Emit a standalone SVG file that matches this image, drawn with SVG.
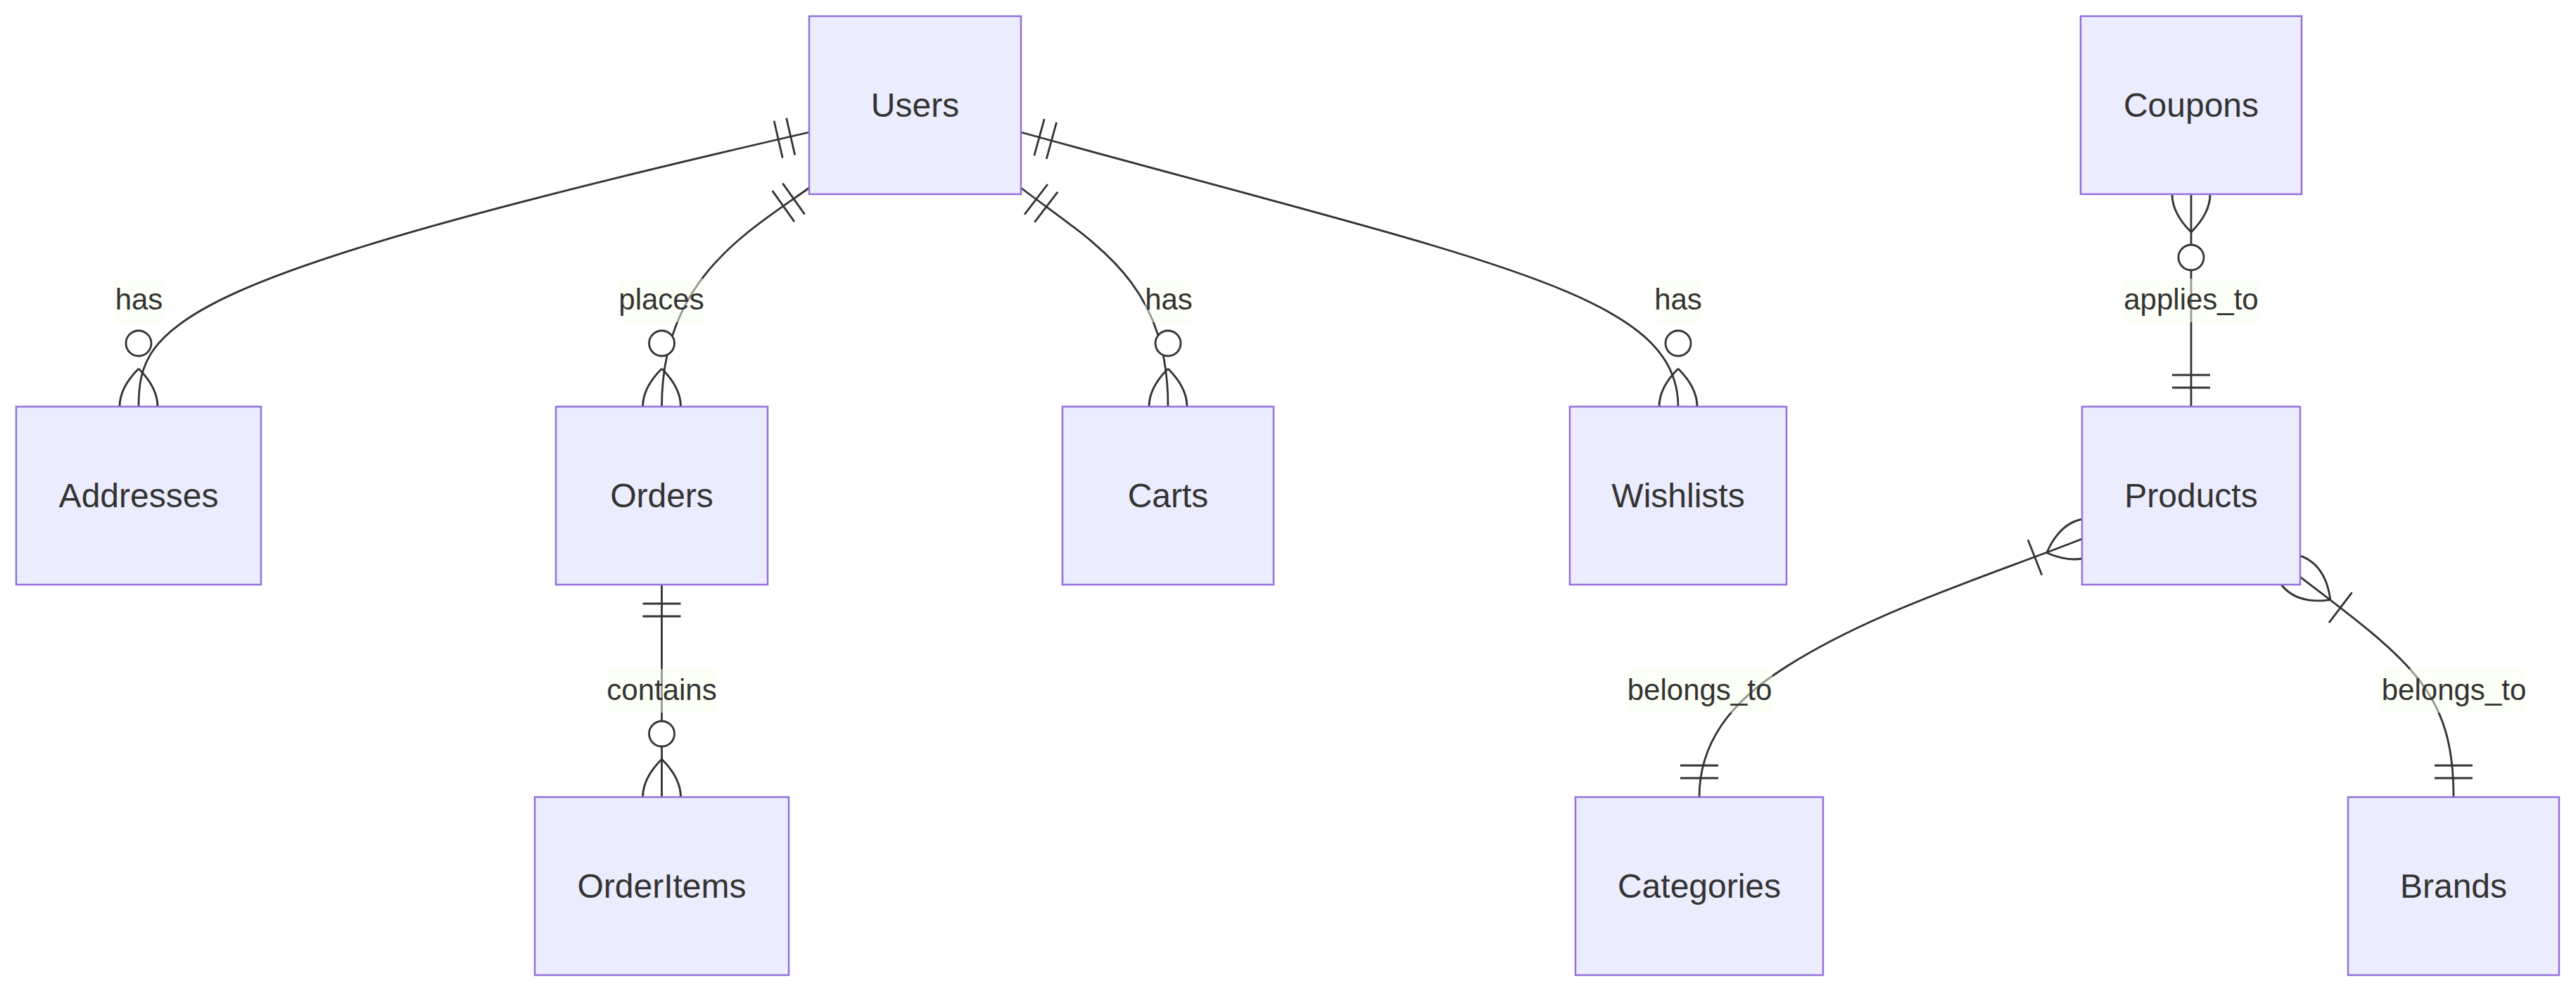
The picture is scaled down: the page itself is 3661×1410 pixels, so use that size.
<svg xmlns="http://www.w3.org/2000/svg" width="3661" height="1410" viewBox="0 0 3661 1410">
<style>
.entity rect{fill:#ECECFF;stroke:#9370DB;stroke-width:2.5}
.entity text{font-family:"Liberation Sans",Arial,sans-serif;font-size:48px;fill:#333;text-anchor:middle}
.rel{fill:none;stroke:#333;stroke-width:2.8}
.lbl rect{fill:#F9FFEC;opacity:0.5}
.lbl text{font-family:"Liberation Sans",Arial,sans-serif;font-size:42px;fill:#333;text-anchor:middle}
.mk{fill:none;stroke:#333;stroke-width:0.93}
.mkc{fill:#fff;stroke:#333;stroke-width:0.93}
</style>
<defs>
<marker id="oneStart" markerUnits="userSpaceOnUse" viewBox="0 0 18 18" refX="0" refY="9" markerWidth="54" markerHeight="54" orient="auto" overflow="visible">
<path class="mk" d="M9,0 L9,18 M15,0 L15,18"/>
</marker>
<marker id="zeroManyEnd" markerUnits="userSpaceOnUse" viewBox="0 0 57 36" refX="39" refY="18" markerWidth="171" markerHeight="108" orient="auto" overflow="visible">
<circle class="mkc" cx="9" cy="18" r="6"/>
<path class="mk" d="M21,18 Q39,0 57,18 Q39,36 21,18"/>
</marker>
<marker id="oneManyEnd" markerUnits="userSpaceOnUse" viewBox="0 0 45 36" refX="27" refY="18" markerWidth="135" markerHeight="108" orient="auto" overflow="visible">
<path class="mk" d="M3,9 L3,27 M9,18 Q27,0 45,18 Q27,36 9,18"/>
</marker>
</defs>
<rect width="3661" height="1410" fill="#fff"/>
<g id="connectors">
<path id="e-users-addresses" class="rel" d="M1150,188 C250,395 197,458 197,578" marker-start="url(#oneStart)" marker-end="url(#zeroManyEnd)"/>
<path id="e-users-orders" class="rel" d="M1150,267 C1060,331 940.5,398 940.5,578" marker-start="url(#oneStart)" marker-end="url(#zeroManyEnd)"/>
<path id="e-users-carts" class="rel" d="M1451,267 C1554,346 1660,398 1660,578" marker-start="url(#oneStart)" marker-end="url(#zeroManyEnd)"/>
<path id="e-users-wishlists" class="rel" d="M1451,188 C2126,374 2385,418 2385,578" marker-start="url(#oneStart)" marker-end="url(#zeroManyEnd)"/>
<path id="e-products-coupons" class="rel" d="M3114,578 L3114,276" marker-start="url(#oneStart)" marker-end="url(#zeroManyEnd)"/>
<path id="e-orders-orderitems" class="rel" d="M940.5,831 L940.5,1133" marker-start="url(#oneStart)" marker-end="url(#zeroManyEnd)"/>
<path id="e-categories-products" class="rel" d="M2415,1133 C2415,1054 2462.5,999.8 2520,960 C2643.3,874.7 2819.5,821 2959,766" marker-start="url(#oneStart)" marker-end="url(#oneManyEnd)"/>
<path id="e-brands-products" class="rel" d="M3487,1133 C3487,984 3428,941 3269,820" marker-start="url(#oneStart)" marker-end="url(#oneManyEnd)"/>
<g class="lbl" id="l-has-addresses"><rect x="163" y="396" width="69" height="62"/><text x="197.5" y="440">has</text></g>
<g class="lbl" id="l-places"><rect x="880" y="396" width="120" height="62"/><text x="940" y="440">places</text></g>
<g class="lbl" id="l-has-carts"><rect x="1627" y="396" width="68" height="62"/><text x="1661" y="440">has</text></g>
<g class="lbl" id="l-has-wishlists"><rect x="2351" y="396" width="68" height="62"/><text x="2385" y="440">has</text></g>
<g class="lbl" id="l-applies"><rect x="3018" y="396" width="192" height="62"/><text x="3114" y="440">applies_to</text></g>
<g class="lbl" id="l-contains"><rect x="863" y="951" width="155" height="62"/><text x="940.5" y="995">contains</text></g>
<g class="lbl" id="l-belongs-cat"><rect x="2312" y="951" width="207" height="62"/><text x="2415.5" y="995">belongs_to</text></g>
<g class="lbl" id="l-belongs-brand"><rect x="3385" y="951" width="205" height="62"/><text x="3487.5" y="995">belongs_to</text></g>
</g>
<g id="Users" class="entity"><rect x="1150" y="23" width="301" height="253"/><text x="1300.5" y="165.5">Users</text></g>
<g id="Coupons" class="entity"><rect x="2957" y="23" width="314" height="253"/><text x="3114" y="165.5">Coupons</text></g>
<g id="Addresses" class="entity"><rect x="23" y="578" width="348" height="253"/><text x="197" y="720.5">Addresses</text></g>
<g id="Orders" class="entity"><rect x="790" y="578" width="301" height="253"/><text x="940.5" y="720.5">Orders</text></g>
<g id="Carts" class="entity"><rect x="1510" y="578" width="300" height="253"/><text x="1660" y="720.5">Carts</text></g>
<g id="Wishlists" class="entity"><rect x="2231" y="578" width="308" height="253"/><text x="2385" y="720.5">Wishlists</text></g>
<g id="Products" class="entity"><rect x="2959" y="578" width="310" height="253"/><text x="3114" y="720.5">Products</text></g>
<g id="OrderItems" class="entity"><rect x="760" y="1133" width="361" height="253"/><text x="940.5" y="1275.5">OrderItems</text></g>
<g id="Categories" class="entity"><rect x="2239" y="1133" width="352" height="253"/><text x="2415" y="1275.5">Categories</text></g>
<g id="Brands" class="entity"><rect x="3337" y="1133" width="300" height="253"/><text x="3487" y="1275.5">Brands</text></g>
</svg>
